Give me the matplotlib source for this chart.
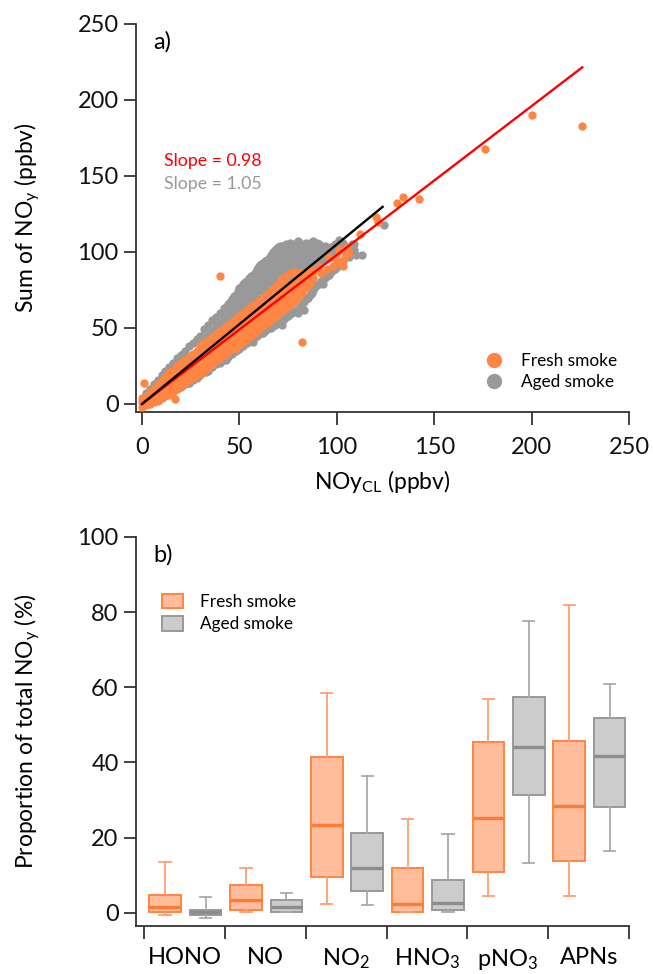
import matplotlib
matplotlib.use('Agg')
import matplotlib.pyplot as plt
from matplotlib.lines import Line2D
from matplotlib.patches import Patch
import numpy as np

plt.rcParams['font.family'] = ['Lato', 'DejaVu Sans']
plt.rcParams['mathtext.default'] = 'regular'

# ---------------- a) NOy closure: NOy(CL) vs sum of NOy (ppbv) ----------------
fresh_pts = [
    (0, -2), (0, 1), (0, 4), (1, -1), (1, 3), (2, -1), (2, 2), (2, 5), (3, 1), (3, 5),
    (4, 0), (4, 4), (4, 8), (5, 2), (5, 7), (6, 1), (6, 6), (6, 10), (7, 4), (7, 9),
    (8, 2), (8, 8), (8, 13), (9, 5), (9, 11), (10, 4), (10, 10), (10, 15), (11, 7), (11, 14),
    (12, 5), (12, 12), (12, 18), (13, 9), (13, 16), (14, 6), (14, 14), (14, 21), (15, 11), (15, 18),
    (16, 8), (16, 16), (16, 22), (17, 12), (17, 20), (18, 10), (18, 18), (18, 25), (19, 14), (19, 22),
    (20, 12), (20, 20), (20, 27), (21, 16), (21, 24), (22, 14), (22, 22), (22, 29), (23, 18), (23, 26),
    (24, 16), (24, 24), (24, 31), (25, 20), (25, 28), (26, 17), (26, 26), (26, 33), (27, 21), (27, 30),
    (28, 19), (28, 28), (28, 35), (29, 23), (29, 32), (30, 20), (30, 30), (30, 38), (31, 25), (31, 34),
    (32, 22), (32, 32), (32, 40), (33, 27), (33, 36), (34, 24), (34, 34), (34, 42), (35, 29), (35, 38),
    (36, 26), (36, 36), (36, 44), (37, 31), (37, 40), (38, 28), (38, 38), (38, 46), (39, 33), (39, 42),
    (40, 30), (40, 40), (40, 48), (41, 35), (41, 44), (42, 32), (42, 42), (42, 50), (43, 37), (43, 46),
    (44, 34), (44, 44), (44, 52), (45, 39), (45, 48), (46, 36), (46, 46), (46, 54), (47, 41), (47, 50),
    (48, 37), (48, 48), (48, 56), (49, 43), (49, 52), (50, 39), (50, 50), (50, 58), (51, 45), (51, 54),
    (52, 41), (52, 52), (52, 60), (53, 47), (53, 56), (54, 43), (54, 54), (54, 62), (55, 49), (55, 58),
    (56, 45), (56, 56), (56, 64), (57, 51), (57, 60), (58, 47), (58, 58), (58, 66), (59, 53), (59, 62),
    (60, 49), (60, 60), (60, 68), (61, 55), (61, 64), (62, 51), (62, 62), (62, 70), (63, 57), (63, 66),
    (64, 53), (64, 64), (64, 72), (65, 59), (65, 68), (66, 55), (66, 66), (66, 75), (67, 61), (67, 70),
    (68, 57), (68, 68), (68, 77), (69, 63), (69, 72), (70, 59), (70, 70), (70, 79), (71, 65), (71, 74),
    (72, 61), (72, 72), (72, 82), (73, 67), (73, 76), (74, 63), (74, 74), (74, 84), (75, 69), (75, 78),
    (76, 65), (76, 75), (76, 86), (77, 70), (77, 79), (78, 67), (78, 77), (78, 87), (79, 72), (79, 81),
    (80, 70), (80, 79), (80, 86), (81, 74), (81, 83), (82, 73), (82, 80), (82, 86), (83, 77), (83, 84),
    (84, 76), (84, 82), (84, 87), (85, 80), (85, 86), (86, 79), (86, 84), (86, 88), (87, 82), (88, 83),
    (88, 87), (91, 90), (92, 86), (95, 89), (96, 97), (98, 91), (100, 95), (101, 101), (102, 93),
    (103, 91), (104, 97), (105, 103), (106, 99), (112, 112), (120, 123), (121, 120), (131, 132),
    (134, 136), (142, 135), (176, 168), (200, 190), (226, 183), (40, 84), (82, 41), (1, 14), (17, 3),
]

aged_pts = [
    (2, 0), (2, 4), (2, 7), (4, 1), (4, 6), (4, 10), (6, 2), (6, 7), (6, 13), (8, 3), (8, 9), (8, 16),
    (10, 4), (10, 12), (10, 19), (12, 6), (12, 14), (12, 22), (14, 7), (14, 15), (14, 24),
    (16, 9), (16, 18), (16, 27), (18, 10), (18, 20), (18, 30), (20, 11), (20, 22), (20, 32),
    (22, 13), (22, 24), (22, 35), (24, 14), (24, 26), (24, 38), (26, 16), (26, 28), (26, 40),
    (28, 17), (28, 30), (28, 43), (30, 19), (30, 32), (30, 45), (32, 21), (32, 34), (32, 44), (32, 49),
    (34, 22), (34, 36), (34, 46), (34, 52), (36, 24), (36, 38), (36, 48), (36, 55),
    (38, 26), (38, 40), (38, 51), (38, 57), (40, 27), (40, 42), (40, 53), (40, 60),
    (42, 29), (42, 44), (42, 56), (42, 63), (44, 31), (44, 46), (44, 58), (44, 66),
    (46, 33), (46, 48), (46, 60), (46, 65), (46, 69), (48, 35), (48, 50), (48, 62), (48, 68), (48, 72),
    (50, 36), (50, 52), (50, 64), (50, 70), (50, 76), (52, 38), (52, 54), (52, 66), (52, 72), (52, 79),
    (54, 40), (54, 56), (54, 68), (54, 75), (54, 81), (56, 42), (56, 58), (56, 70), (56, 77), (56, 84),
    (58, 44), (58, 60), (58, 72), (58, 79), (58, 86), (60, 46), (60, 62), (60, 74), (60, 81), (60, 86), (60, 91),
    (62, 47), (62, 64), (62, 76), (62, 83), (62, 89), (62, 93), (64, 49), (64, 66), (64, 78), (64, 85), (64, 91), (64, 95),
    (66, 50), (66, 68), (66, 80), (66, 87), (66, 93), (66, 98), (68, 52), (68, 70), (68, 82), (68, 89), (68, 95), (68, 101),
    (70, 53), (70, 72), (70, 84), (70, 91), (70, 97), (70, 103), (72, 55), (72, 74), (72, 86), (72, 93), (72, 99), (72, 104),
    (74, 57), (74, 76), (74, 88), (74, 95), (74, 100), (74, 105), (76, 59), (76, 78), (76, 89), (76, 96), (76, 101), (76, 106),
    (78, 61), (78, 80), (78, 90), (78, 97), (78, 102), (78, 105), (80, 62), (80, 82), (80, 91), (80, 98), (80, 103), (80, 107),
    (82, 66), (82, 84), (82, 93), (82, 99), (82, 104), (84, 69), (84, 86), (84, 94), (84, 100), (84, 106),
    (86, 72), (86, 88), (86, 95), (86, 101), (86, 106), (88, 75), (88, 90), (88, 97), (88, 102), (88, 107),
    (90, 78), (90, 92), (90, 98), (90, 103), (90, 106), (92, 81), (92, 93), (92, 99), (92, 104),
    (94, 83), (94, 95), (94, 100), (94, 104), (96, 85), (96, 96), (96, 101), (98, 88), (98, 97), (98, 102),
    (100, 90), (100, 99), (100, 104), (103, 94), (103, 101), (103, 106), (106, 97), (106, 102),
    (109, 101), (109, 105), (124, 118), (113, 98), (110, 98), (105, 99), (93, 79), (83, 62), (80, 60),
    (72, 52), (57, 41), (43, 29), (33, 21), (24, 14), (93, 103), (108, 105), (101, 108), (21, 33),
    # upper lobe, in-between columns
    (41, 35), (41, 48), (41, 59), (43, 37), (43, 51), (43, 62), (45, 39), (45, 53), (45, 64), (45, 67),
    (47, 41), (47, 55), (47, 66), (47, 71), (49, 43), (49, 57), (49, 66), (49, 74),
    (51, 45), (51, 59), (51, 69), (51, 77), (53, 47), (53, 61), (53, 71), (53, 80),
    (55, 49), (55, 63), (55, 73), (55, 80), (55, 83), (57, 51), (57, 65), (57, 75), (57, 82), (57, 85),
    (59, 45), (59, 67), (59, 77), (59, 84), (59, 89), (61, 47), (61, 69), (61, 79), (61, 86), (61, 92),
    (63, 48), (63, 71), (63, 81), (63, 88), (63, 94), (65, 50), (65, 73), (65, 82), (65, 90), (65, 96),
    (67, 51), (67, 75), (67, 85), (67, 92), (67, 98), (67, 100), (69, 53), (69, 77), (69, 87), (69, 94), (69, 100), (69, 102),
    (71, 54), (71, 79), (71, 88), (71, 96), (71, 101), (71, 104), (73, 56), (73, 81), (73, 90), (73, 97), (73, 102),
    (75, 58), (75, 83), (75, 92), (75, 98), (75, 103), (77, 60), (77, 85), (77, 93), (77, 99), (77, 104),
    (79, 62), (79, 87), (79, 94), (79, 100), (79, 105), (81, 64), (81, 88), (81, 96), (81, 101), (81, 106),
    (83, 67), (83, 90), (83, 97), (83, 102), (85, 70), (85, 91), (85, 98), (85, 103),
    (87, 73), (87, 93), (87, 99), (87, 104), (89, 77), (89, 94), (89, 100), (89, 105),
    (91, 79), (91, 95), (91, 101), (91, 105), (93, 82), (93, 97), (95, 84), (95, 98), (95, 103),
    (97, 87), (97, 99), (97, 103), (99, 89), (99, 101), (99, 105), (101, 92), (101, 103),
]

fresh_slope, aged_slope = 0.98, 1.05
fresh_fit_range = (0, 226)
aged_fit_range = (0, 123.5)

# ---------------- b) share of total NOy (%): whislo, q1, median, q3, whishi ----------------
species = ['HONO', 'NO', 'NO$_2$', 'HNO$_3$', 'pNO$_3$', 'APNs']
fresh_box = [
    (-0.5, 0.35, 1.5, 4.7, 13.6),
    (0.1, 0.8, 3.5, 7.4, 11.8),
    (2.3, 9.5, 23.4, 41.4, 58.6),
    (0.1, 0.35, 2.3, 11.9, 24.9),
    (4.4, 10.8, 25.3, 45.5, 56.9),
    (4.4, 13.9, 28.5, 45.8, 81.8),
]
aged_box = [
    (-1.4, -0.5, 0.1, 0.8, 4.2),
    (0.1, 0.35, 1.5, 3.3, 5.4),
    (2.1, 5.8, 11.8, 21.2, 36.3),
    (0.1, 0.8, 2.7, 8.8, 21.0),
    (13.2, 31.3, 44.1, 57.3, 77.7),
    (16.5, 28.1, 41.6, 51.9, 60.8),
]

ORANGE = '#FF8543'
GREY = '#999999'
AXCOL = '#333333'


def style(ax):
    ax.spines['top'].set_visible(False)
    ax.spines['right'].set_visible(False)
    for s in ['left', 'bottom']:
        ax.spines[s].set_linewidth(1.3)
        ax.spines[s].set_color(AXCOL)
    ax.tick_params(direction='out', length=9, width=1.3, color=AXCOL,
                   labelsize=17, labelcolor='#111111')


fig = plt.figure(figsize=(6.53, 9.74), dpi=100)
ax1 = fig.add_axes([0.2083, 0.5770, 0.7550, 0.3984])
ax2 = fig.add_axes([0.2083, 0.0493, 0.7550, 0.3994])

# scatter panel
fresh = np.array(fresh_pts, dtype=float)
aged = np.array(aged_pts, dtype=float)
ax1.scatter(aged[:, 0], aged[:, 1], s=36, color=GREY, lw=0, zorder=2)
ax1.scatter(fresh[:, 0], fresh[:, 1], s=36, color=ORANGE, lw=0, zorder=3)
xf = np.array(fresh_fit_range)
xa = np.array(aged_fit_range)
ax1.plot(xf, fresh_slope * xf, color='#FF0000', lw=1.7, zorder=4)
ax1.plot(xa, aged_slope * xa, color='black', lw=1.7, zorder=5)

ax1.set_xlim(-3.1, 250)
ax1.set_ylim(-5.3, 250)
ax1.set_xticks(np.arange(0, 251, 50))
ax1.set_yticks(np.arange(0, 251, 50))
style(ax1)
ax1.tick_params(axis='x', pad=9)
ax1.set_xlabel('NOy$_{CL}$ (ppbv)', fontsize=16.5, labelpad=7)
ax1.set_ylabel('Sum of NO$_y$ (ppbv)', fontsize=16.5)
ax1.yaxis.set_label_coords(-0.19, 0.5)
ax1.text(0.035, 0.953, 'a)', transform=ax1.transAxes, fontsize=17, va='center')
ax1.text(11.5, 160, 'Slope = 0.98', color='#FF0000', fontsize=12.8, va='center')
ax1.text(11.5, 145, 'Slope = 1.05', color=GREY, fontsize=12.8, va='center')

h1 = [Line2D([], [], ls='', marker='o', ms=10, color=ORANGE),
      Line2D([], [], ls='', marker='o', ms=10, color=GREY)]
ax1.legend(h1, ['Fresh smoke', 'Aged smoke'], loc='lower right',
           bbox_to_anchor=(0.994, 0.035), frameon=False, fontsize=12.4,
           handletextpad=0.6, labelspacing=0.3, borderpad=0)

# box panel
def to_stats(rows):
    return [dict(whislo=r[0], q1=r[1], med=r[2], q3=r[3], whishi=r[4], fliers=[])
            for r in rows]


pos = np.arange(len(species))
ax2.bxp(to_stats(fresh_box), positions=pos + 0.26, widths=0.39,
        patch_artist=True, showfliers=False, manage_ticks=False, capwidths=0.14,
        boxprops=dict(facecolor='#FFBD9C', edgecolor=ORANGE, linewidth=1.4),
        whiskerprops=dict(color='#FF9E70', linewidth=1.3),
        capprops=dict(color='#FF9E70', linewidth=1.3),
        medianprops=dict(color='#FF7A35', linewidth=2.4))
ax2.bxp(to_stats(aged_box), positions=pos + 0.76, widths=0.39,
        patch_artist=True, showfliers=False, manage_ticks=False, capwidths=0.14,
        boxprops=dict(facecolor='#CCCCCC', edgecolor=GREY, linewidth=1.4),
        whiskerprops=dict(color='#AAAAAA', linewidth=1.3),
        capprops=dict(color='#AAAAAA', linewidth=1.3),
        medianprops=dict(color='#8C8C8C', linewidth=2.4))

ax2.set_xlim(-0.1, 6)
ax2.set_ylim(-3.5, 100)
ax2.set_yticks(np.arange(0, 101, 20))
ax2.set_xticks(np.arange(0, 7))
ax2.set_xticklabels([])
ax2.set_xticks(pos + 0.5, minor=True)
ax2.set_xticklabels(species, minor=True)
style(ax2)
ax2.tick_params(axis='x', which='minor', length=0, labelsize=17, pad=15)
ax2.set_ylabel('Proportion of total NO$_y$ (%)', fontsize=16.5)
ax2.yaxis.set_label_coords(-0.19, 0.5)
ax2.text(0.035, 0.953, 'b)', transform=ax2.transAxes, fontsize=17, va='center')

h2 = [Patch(facecolor='#FFBD9C', edgecolor=ORANGE, lw=1.4),
      Patch(facecolor='#CCCCCC', edgecolor=GREY, lw=1.4)]
ax2.legend(h2, ['Fresh smoke', 'Aged smoke'], loc='upper left',
           bbox_to_anchor=(0.036, 0.875), frameon=False, fontsize=12.4,
           handlelength=1.2, handleheight=0.9, handletextpad=1.0,
           labelspacing=0.35, borderpad=0)

fig.savefig('out.png', dpi=100)
